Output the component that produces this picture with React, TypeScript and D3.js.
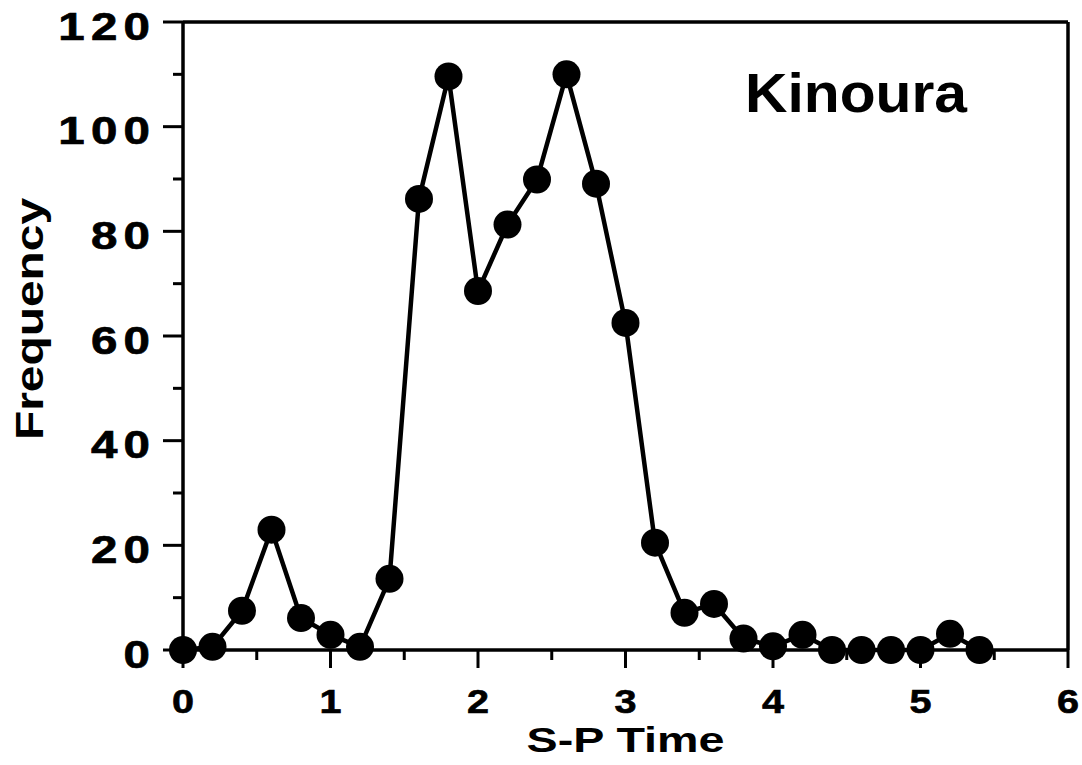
import React from "react";
import * as d3 from "d3";

const spTime = [0, 0.2, 0.4, 0.6, 0.8, 1.0, 1.2, 1.4, 1.6, 1.8, 2.0, 2.2, 2.4, 2.6, 2.8, 3.0, 3.2, 3.4, 3.6, 3.8, 4.0, 4.2, 4.4, 4.6, 4.8, 5.0, 5.2, 5.4];
const frequency = [0, 0.6, 7.5, 23, 6.1, 2.9, 0.6, 13.6, 86.2, 109.6, 68.6, 81.3, 89.9, 110, 89.1, 62.5, 20.5, 7.1, 8.8, 2.2, 0.7, 2.9, 0, 0, 0, 0, 3.1, 0];
const xMajorTicks = [0, 1, 2, 3, 4, 5, 6];
const xMinorTicks = [0.5, 1.5, 2.5, 3.5, 4.5, 5.5];
const yMajorTicks = [0, 20, 40, 60, 80, 100, 120];
const yMinorTicks = [10, 30, 50, 70, 90, 110];
const xLabel = "S-P Time";
const yLabel = "Frequency";
const title = "Kinoura";

const W = 1082;
const H = 765;
const left = 183;
const right = 1068;
const top = 22;
const bottom = 650;

export default function App() {
  const x = d3.scaleLinear().domain([0, 6]).range([left, right]);
  const y = d3.scaleLinear().domain([0, 120]).range([bottom, top]);
  const pts: [number, number][] = spTime.map((t, i) => [t, frequency[i]]);
  const line = d3
    .line<[number, number]>()
    .x((d) => x(d[0]))
    .y((d) => y(d[1]));
  const font = "'Liberation Sans', Arial, Helvetica, sans-serif";
  const axisW = 3.5;
  const ySx = 1.25;
  const ySpacing = 5;

  return (
    <svg
      width={W}
      height={H}
      style={{ position: "absolute", left: 0, top: 0, background: "#fff" }}
      fontFamily={font}
      fontWeight="bold"
    >
      <rect x={0} y={0} width={W} height={H} fill="#fff" />
      {/* frame */}
      <line x1={left} y1={top} x2={left} y2={bottom} stroke="#000" strokeWidth={axisW} />
      <line x1={left} y1={bottom} x2={right} y2={bottom} stroke="#000" strokeWidth={axisW} />
      <line x1={left} y1={top} x2={right} y2={top} stroke="#000" strokeWidth={axisW} />
      <line x1={right} y1={top} x2={right} y2={bottom} stroke="#000" strokeWidth={axisW} />

      {/* y ticks */}
      {yMajorTicks.map((v) => (
        <line key={"ym" + v} x1={left - 20} x2={left} y1={y(v)} y2={y(v)} stroke="#000" strokeWidth={3} />
      ))}
      {yMinorTicks.map((v) => (
        <line key={"yn" + v} x1={left - 10} x2={left} y1={y(v)} y2={y(v)} stroke="#000" strokeWidth={3} />
      ))}
      {/* x ticks */}
      {xMajorTicks.map((v) => (
        <line key={"xm" + v} x1={x(v)} x2={x(v)} y1={bottom} y2={bottom + 18} stroke="#000" strokeWidth={3} />
      ))}
      {xMinorTicks.map((v) => (
        <line key={"xn" + v} x1={x(v)} x2={x(v)} y1={bottom} y2={bottom + 10} stroke="#000" strokeWidth={3} />
      ))}

      {/* y tick labels */}
      {yMajorTicks.map((v) => (
        <text
          key={"yl" + v}
          transform={`translate(${150 + ySpacing * ySx}, ${y(v) + 17.5}) scale(${ySx}, 1)`}
          textAnchor="end"
          fontSize={38}
          letterSpacing={ySpacing}
          fill="#000"
          stroke="#000"
          strokeWidth={0.7}
        >
          {String(v)}
        </text>
      ))}
      {/* x tick labels */}
      {xMajorTicks.map((v) => (
        <text
          key={"xl" + v}
          transform={`translate(${x(v)}, 713) scale(1.2, 1)`}
          textAnchor="middle"
          fontSize={33}
          fill="#000"
          stroke="#000"
          strokeWidth={0.6}
        >
          {String(v)}
        </text>
      ))}

      {/* axis titles */}
      <text
        transform={`translate(43, 319) rotate(-90)`}
        textAnchor="middle"
        fontSize={38}
        textLength={242}
        lengthAdjust="spacingAndGlyphs"
        fill="#000"
      >
        {yLabel}
      </text>
      <text
        x={(left + right) / 2}
        y={752}
        textAnchor="middle"
        fontSize={35}
        textLength={198}
        lengthAdjust="spacingAndGlyphs"
        fill="#000"
      >
        {xLabel}
      </text>
      <text x={745} y={112} fontSize={56} textLength={222} lengthAdjust="spacingAndGlyphs" fill="#000">
        {title}
      </text>

      {/* data */}
      <path d={line(pts) || ""} fill="none" stroke="#000" strokeWidth={4.5} strokeLinejoin="round" />
      {pts.map((d, i) => (
        <circle key={"p" + i} cx={x(d[0])} cy={y(d[1])} r={14} fill="#000" />
      ))}
    </svg>
  );
}
